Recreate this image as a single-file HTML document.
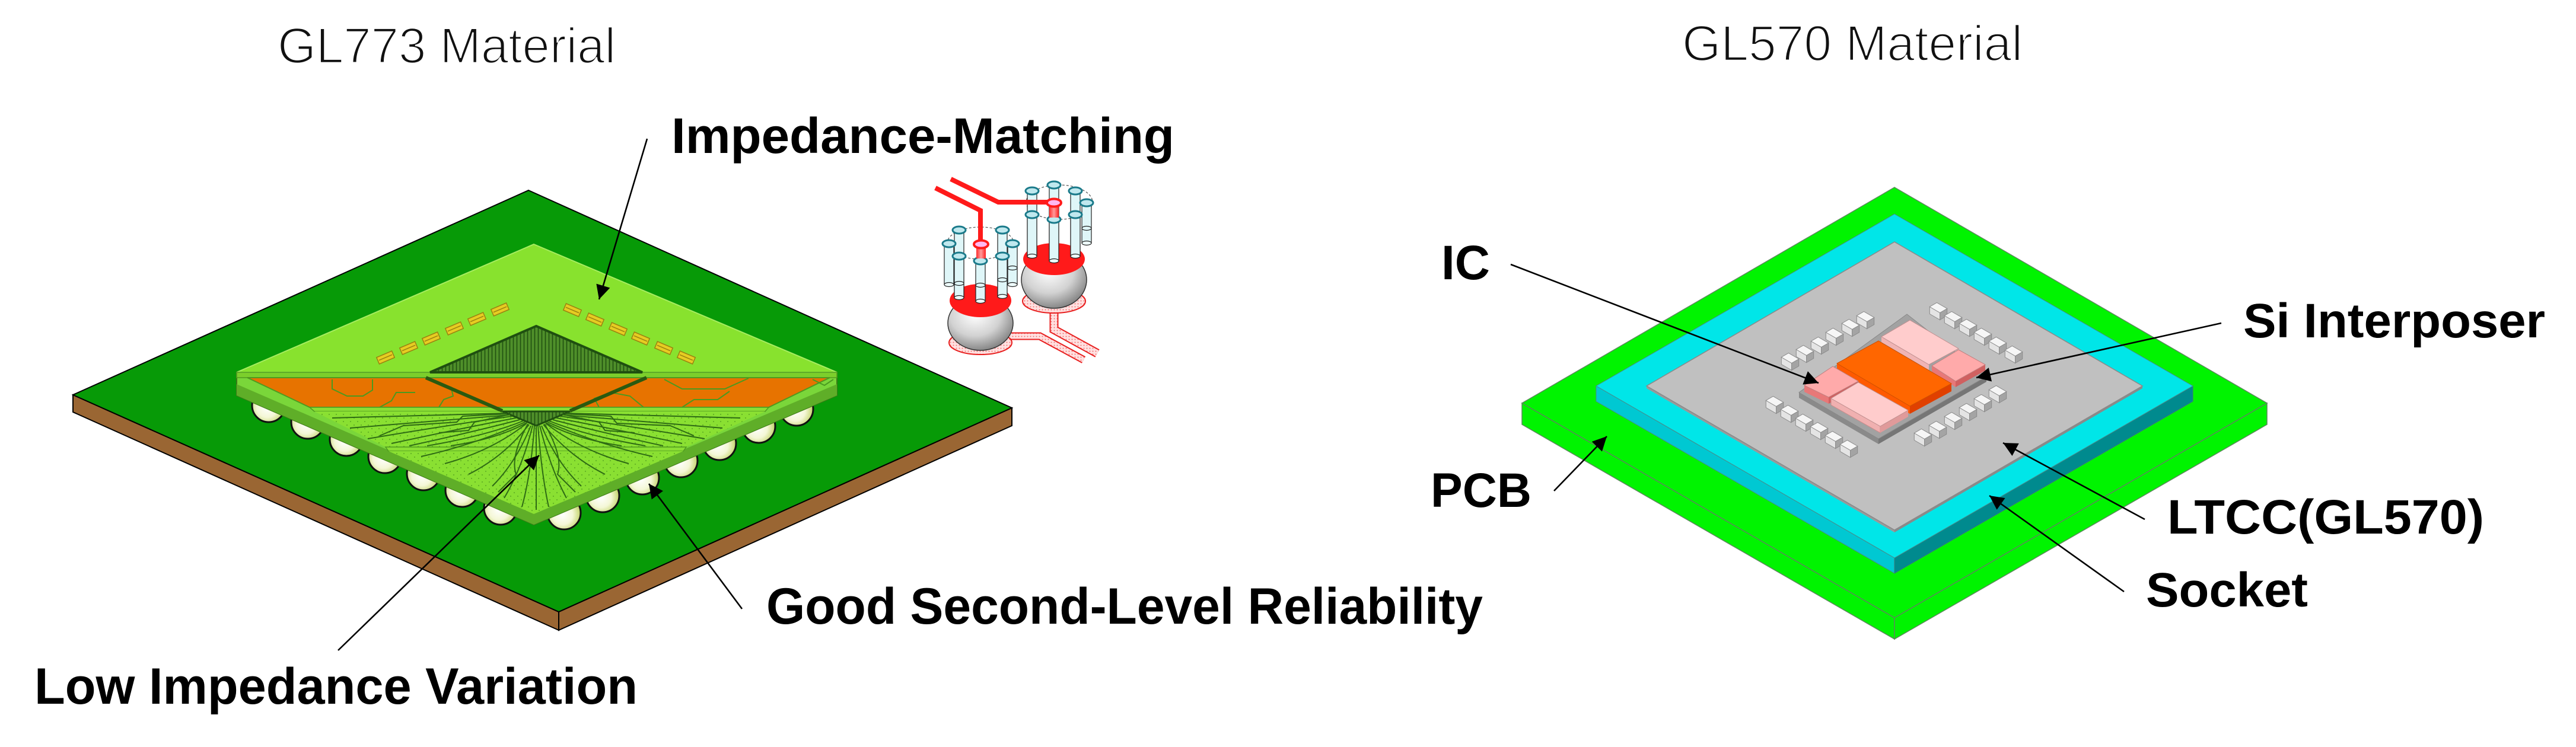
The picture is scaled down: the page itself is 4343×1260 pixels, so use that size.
<!DOCTYPE html>
<html><head><meta charset="utf-8"><style>
html,body{margin:0;padding:0;background:#fff;}
svg{display:block;}
</style></head><body>
<svg width="4343" height="1260" viewBox="0 0 4343 1260" xmlns="http://www.w3.org/2000/svg">
<defs>
<marker id="ah" viewBox="0 0 10 10" refX="10" refY="5" markerWidth="32" markerHeight="24" markerUnits="userSpaceOnUse" orient="auto"><path d="M0,0 L10,5 L0,10 z" fill="#000"/></marker>
<radialGradient id="ballg" cx="0.45" cy="0.55" r="0.62"><stop offset="0" stop-color="#ffffff"/><stop offset="0.5" stop-color="#f4f7d6"/><stop offset="1" stop-color="#b5c84a"/></radialGradient>
<radialGradient id="grayball" cx="0.42" cy="0.35" r="0.7"><stop offset="0" stop-color="#ffffff"/><stop offset="0.55" stop-color="#d2d2d2"/><stop offset="1" stop-color="#7a7a7a"/></radialGradient>
<linearGradient id="redcyl" x1="0" y1="0" x2="1" y2="0"><stop offset="0" stop-color="#ff3030"/><stop offset="0.5" stop-color="#ff9a9a"/><stop offset="1" stop-color="#ff2020"/></linearGradient>
<pattern id="dots" width="12" height="12" patternUnits="userSpaceOnUse"><circle cx="3" cy="3" r="1.1" fill="#3f8a1a" opacity="0.55"/><circle cx="9" cy="9" r="1.1" fill="#3f8a1a" opacity="0.55"/></pattern>
<pattern id="hatch" width="6" height="10" patternUnits="userSpaceOnUse"><rect width="6" height="10" fill="#4f8f2a"/><line x1="1.5" y1="0" x2="1.5" y2="10" stroke="#1f4f10" stroke-width="1.6"/></pattern>
<pattern id="pinkdot" width="5" height="5" patternUnits="userSpaceOnUse"><rect width="5" height="5" fill="#ffe0e0"/><circle cx="2.5" cy="2.5" r="1" fill="#f07070"/></pattern>
<clipPath id="pkgclip"><polygon points="900,412 1411,628 1411,667 900,885 399,667 399,628"/></clipPath>
<g id="cube">
<polygon points="-14.7,-7.5 2.6,2.5 2.6,14.5 -14.7,4.5" fill="#e4e4e4" stroke="#8a8a8a" stroke-width="1"/>
<polygon points="2.6,2.5 14.7,-4.5 14.7,7.5 2.6,14.5" fill="#a4a4a4" stroke="#8a8a8a" stroke-width="1"/>
<polygon points="-14.7,-7.5 2.6,2.5 14.7,-4.5 -2.6,-14.5" fill="#f6f6f6" stroke="#8a8a8a" stroke-width="1"/>
</g>
</defs>

<!-- ===== Titles ===== -->
<text x="468" y="106" font-family="Liberation Sans, sans-serif" font-size="84" fill="#111" stroke="#fff" stroke-width="2.5" textLength="570" lengthAdjust="spacingAndGlyphs">GL773 Material</text>
<text x="2836" y="102" font-family="Liberation Sans, sans-serif" font-size="84" fill="#111" stroke="#fff" stroke-width="2.5" textLength="574" lengthAdjust="spacingAndGlyphs">GL570 Material</text>

<!-- ===== LEFT: board ===== -->
<polygon points="123,666 942,1032 942,1063 123,695" fill="#9a6633" stroke="#000" stroke-width="2"/>
<polygon points="942,1032 1706,688 1706,718 942,1063" fill="#9a6633" stroke="#000" stroke-width="2"/>
<polygon points="891,321 1706,688 942,1032 123,666" fill="#079a07" stroke="#000" stroke-width="2"/>

<!-- solder balls -->
<g stroke="#111" stroke-width="3" fill="url(#ballg)">
<ellipse cx="453" cy="684" rx="28" ry="28"/>
<ellipse cx="1343" cy="690" rx="28" ry="28"/>
<ellipse cx="519" cy="712" rx="28" ry="28"/>
<ellipse cx="1279" cy="719" rx="28" ry="28"/>
<ellipse cx="584" cy="741" rx="28" ry="28"/>
<ellipse cx="1213" cy="748" rx="28" ry="28"/>
<ellipse cx="649" cy="770" rx="28" ry="28"/>
<ellipse cx="1148" cy="777" rx="28" ry="28"/>
<ellipse cx="714" cy="799" rx="28" ry="28"/>
<ellipse cx="1083" cy="806" rx="28" ry="28"/>
<ellipse cx="779" cy="827" rx="28" ry="28"/>
<ellipse cx="1016" cy="836" rx="28" ry="28"/>
<ellipse cx="844" cy="857" rx="28" ry="28"/>
<ellipse cx="951" cy="865" rx="28" ry="28"/>
</g>

<!-- package -->
<polygon points="900,412 1411,628 1411,667 900,885 399,667 399,628" fill="#7ad63a" stroke="#3d7a18" stroke-width="2"/>
<polygon points="399,648 399,667 900,885 900,866" fill="#5fae28"/>
<polygon points="900,866 900,885 1411,667 1411,648" fill="#5fae28"/>
<polygon points="900,412 1411,628 399,628" fill="#88e22e" stroke="#a6ee60" stroke-width="2"/>
<rect x="399" y="628" width="1012" height="9" fill="#7ccf2c" stroke="#4f9a20" stroke-width="1.5"/>
<!-- orange layer -->
<polygon points="417,637 1399,637 1296,687 522,687" fill="#e77300" stroke="#4f9a20" stroke-width="2"/>
<polygon points="522,687 1296,687 1290,694 530,694" fill="#8ade34" stroke="#4f9a20" stroke-width="1.5"/>
<!-- trace layer -->
<polygon points="530,694 1290,694 1157,754 650,754" fill="#8ae032"/>
<polygon points="530,694 1290,694 1157,754 650,754" fill="url(#dots)"/>
<polygon points="650,754 1157,754 1152,761 655,761" fill="#8ade34" stroke="#4f9a20" stroke-width="1.5"/>
<polygon points="655,761 1152,761 900,867" fill="#8ae032"/>
<polygon points="655,761 1152,761 900,867" fill="url(#dots)"/>

<!-- orange band traces -->
<g fill="none" stroke="#4a9a20" stroke-width="2">
<polyline points="560,640 560,656 585,668 612,668 628,658 628,640"/>
<polyline points="640,687 660,676 668,662 700,662"/>
<polyline points="1120,640 1150,656 1222,656 1262,638"/>
<polyline points="1370,640 1390,650 1405,640"/>
<polyline points="740,687 748,674 764,668 760,652"/>
<polyline points="1010,687 1002,672 1030,662 1062,668 1085,687"/>
<polyline points="1150,687 1170,674 1210,674 1230,660"/>
</g>

<!-- die -->
<polygon points="904,550 1083,628 725,628" fill="url(#hatch)" stroke="#1f4f10" stroke-width="4"/>
<line x1="718" y1="637" x2="847" y2="693" stroke="#2a5a10" stroke-width="6"/>
<line x1="1090" y1="637" x2="961" y2="693" stroke="#2a5a10" stroke-width="6"/>
<polygon points="847,694 961,694 904,718" fill="url(#hatch)" stroke="#1f4f10" stroke-width="3"/>

<!-- traces -->
<g clip-path="url(#pkgclip)" fill="none" stroke="#2e6b14" stroke-width="2">
<path d="M852,697 Q760,700 560,705"/>
<path d="M858,700 Q760,708 590,722"/>
<path d="M864,702 Q770,715 620,740"/>
<path d="M870,705 Q790,720 660,748"/>
<path d="M876,708 Q800,728 690,752"/>
<path d="M882,710 Q820,735 720,752"/>
<path d="M888,713 Q840,740 760,752"/>
<path d="M855,698 L780,702 L770,712 L680,718 L640,735"/>
<path d="M860,699 L800,712 L790,726 L740,730"/>
<path d="M956,697 Q1048,700 1248,705"/>
<path d="M950,700 Q1048,708 1218,722"/>
<path d="M944,702 Q1038,715 1188,740"/>
<path d="M938,705 Q1018,720 1150,748"/>
<path d="M932,708 Q1008,728 1118,752"/>
<path d="M926,710 Q988,735 1088,752"/>
<path d="M920,713 Q968,740 1048,752"/>
<path d="M953,698 L1030,702 L1040,714 L1130,718 L1170,735"/>
<path d="M948,699 L1010,712 L1020,726 L1070,730"/>
<path d="M895,718 Q870,780 830,820"/>
<path d="M898,718 Q880,790 850,840"/>
<path d="M901,718 Q895,800 880,855"/>
<path d="M904,718 L904,860"/>
<path d="M907,718 Q913,800 925,855"/>
<path d="M910,718 Q928,790 955,840"/>
<path d="M913,718 Q938,780 980,820"/>
<path d="M892,716 Q850,770 790,800"/>
<path d="M916,716 Q960,770 1020,800"/>
<path d="M888,714 Q830,760 750,782"/>
<path d="M920,714 Q980,760 1060,782"/>
<path d="M885,712 Q800,750 710,770"/>
<path d="M923,712 Q1010,750 1100,770"/>
<path d="M890,715 Q860,770 870,800 L840,830"/>
<path d="M918,715 Q950,770 940,800 L970,830"/>
</g>

<!-- pads -->
<g fill="#e6cc22" stroke="#9a8210" stroke-width="1.5">
<g transform="translate(650,603) rotate(-23)"><rect x="-14" y="-6" width="28" height="12"/><line x1="-12" y1="0" x2="12" y2="0"/></g>
<g transform="translate(689,587) rotate(-23)"><rect x="-14" y="-6" width="28" height="12"/><line x1="-12" y1="0" x2="12" y2="0"/></g>
<g transform="translate(727,571) rotate(-23)"><rect x="-14" y="-6" width="28" height="12"/><line x1="-12" y1="0" x2="12" y2="0"/></g>
<g transform="translate(766,554) rotate(-23)"><rect x="-14" y="-6" width="28" height="12"/><line x1="-12" y1="0" x2="12" y2="0"/></g>
<g transform="translate(804,538) rotate(-23)"><rect x="-14" y="-6" width="28" height="12"/><line x1="-12" y1="0" x2="12" y2="0"/></g>
<g transform="translate(843,522) rotate(-23)"><rect x="-14" y="-6" width="28" height="12"/><line x1="-12" y1="0" x2="12" y2="0"/></g>
<g transform="translate(965,523) rotate(23)"><rect x="-14" y="-6" width="28" height="12"/><line x1="-12" y1="0" x2="12" y2="0"/></g>
<g transform="translate(1003,539) rotate(23)"><rect x="-14" y="-6" width="28" height="12"/><line x1="-12" y1="0" x2="12" y2="0"/></g>
<g transform="translate(1042,555) rotate(23)"><rect x="-14" y="-6" width="28" height="12"/><line x1="-12" y1="0" x2="12" y2="0"/></g>
<g transform="translate(1080,571) rotate(23)"><rect x="-14" y="-6" width="28" height="12"/><line x1="-12" y1="0" x2="12" y2="0"/></g>
<g transform="translate(1119,587) rotate(23)"><rect x="-14" y="-6" width="28" height="12"/><line x1="-12" y1="0" x2="12" y2="0"/></g>
<g transform="translate(1157,603) rotate(23)"><rect x="-14" y="-6" width="28" height="12"/><line x1="-12" y1="0" x2="12" y2="0"/></g>
</g>

<!-- ===== Inset: impedance matching ===== -->
<!-- right group -->
<polyline points="1777,515 1777,556 1850,596" fill="none" stroke="#e82020" stroke-width="15"/>
<polyline points="1777,515 1777,556 1850,596" fill="none" stroke="url(#pinkdot)" stroke-width="11"/>
<ellipse cx="1777" cy="508" rx="53" ry="20" fill="url(#pinkdot)" stroke="#e82020" stroke-width="2"/>
<ellipse cx="1777" cy="472" rx="55" ry="48" fill="url(#grayball)" stroke="#333" stroke-width="1.5"/>
<ellipse cx="1777" cy="437" rx="52" ry="27" fill="#ff1a1a"/>
<ellipse cx="1786" cy="341" rx="56" ry="29" fill="none" stroke="#555" stroke-width="1.2" stroke-dasharray="4,3"/>
<g stroke-width="1.2">
<g><rect x="1769" y="312" width="16" height="108" fill="#dff6f8" stroke="#222"/><ellipse cx="1777" cy="420" rx="8" ry="3.5" fill="#eefcfc" stroke="#222"/><ellipse cx="1777" cy="312" rx="11" ry="6" fill="#bfe8ee" stroke="#1a7a8a" stroke-width="3"/></g>
<g><rect x="1732" y="322" width="16" height="110" fill="#dff6f8" stroke="#222"/><ellipse cx="1740" cy="432" rx="8" ry="3.5" fill="#eefcfc" stroke="#222"/><ellipse cx="1740" cy="322" rx="11" ry="6" fill="#bfe8ee" stroke="#1a7a8a" stroke-width="3"/></g>
<g><rect x="1805" y="322" width="16" height="110" fill="#dff6f8" stroke="#222"/><ellipse cx="1813" cy="432" rx="8" ry="3.5" fill="#eefcfc" stroke="#222"/><ellipse cx="1813" cy="322" rx="11" ry="6" fill="#bfe8ee" stroke="#1a7a8a" stroke-width="3"/></g>
<g><rect x="1824" y="342" width="16" height="68" fill="#dff6f8" stroke="#222"/><ellipse cx="1832" cy="385" rx="8" ry="3.5" fill="none" stroke="#222"/><ellipse cx="1832" cy="410" rx="8" ry="3.5" fill="#eefcfc" stroke="#222"/><ellipse cx="1832" cy="342" rx="11" ry="6" fill="#bfe8ee" stroke="#1a7a8a" stroke-width="3"/></g>
<g><rect x="1732" y="362" width="16" height="70" fill="#dff6f8" stroke="#222"/><ellipse cx="1740" cy="432" rx="8" ry="3.5" fill="#eefcfc" stroke="#222"/><ellipse cx="1740" cy="362" rx="11" ry="6" fill="#bfe8ee" stroke="#1a7a8a" stroke-width="3"/></g>
<g><rect x="1805" y="362" width="16" height="70" fill="#dff6f8" stroke="#222"/><ellipse cx="1813" cy="432" rx="8" ry="3.5" fill="#eefcfc" stroke="#222"/><ellipse cx="1813" cy="362" rx="11" ry="6" fill="#bfe8ee" stroke="#1a7a8a" stroke-width="3"/></g>
<g><rect x="1769" y="370" width="16" height="70" fill="#dff6f8" stroke="#222"/><ellipse cx="1777" cy="440" rx="8" ry="3.5" fill="#eefcfc" stroke="#222"/><ellipse cx="1777" cy="370" rx="11" ry="6" fill="#bfe8ee" stroke="#1a7a8a" stroke-width="3"/></g>
</g>
<rect x="1769" y="342" width="16" height="25" fill="url(#redcyl)"/>

<!-- left group -->
<polyline points="1703,567 1753,567 1827,607" fill="none" stroke="#e82020" stroke-width="13"/>
<polyline points="1703,567 1753,567 1827,607" fill="none" stroke="url(#pinkdot)" stroke-width="9"/>
<ellipse cx="1653" cy="578" rx="53" ry="20" fill="url(#pinkdot)" stroke="#e82020" stroke-width="2"/>
<ellipse cx="1653" cy="545" rx="55" ry="46" fill="url(#grayball)" stroke="#333" stroke-width="1.5"/>
<ellipse cx="1653" cy="507" rx="52" ry="28" fill="#ff1a1a"/>
<ellipse cx="1653" cy="410" rx="56" ry="27" fill="none" stroke="#555" stroke-width="1.2" stroke-dasharray="4,3"/>
<g stroke-width="1.2">
<g><rect x="1609" y="388" width="16" height="112" fill="#dff6f8" stroke="#222"/><ellipse cx="1617" cy="500" rx="8" ry="3.5" fill="#eefcfc" stroke="#222"/><ellipse cx="1617" cy="388" rx="11" ry="6" fill="#bfe8ee" stroke="#1a7a8a" stroke-width="3"/></g>
<g><rect x="1682" y="388" width="16" height="109" fill="#dff6f8" stroke="#222"/><ellipse cx="1690" cy="497" rx="8" ry="3.5" fill="#eefcfc" stroke="#222"/><ellipse cx="1690" cy="388" rx="11" ry="6" fill="#bfe8ee" stroke="#1a7a8a" stroke-width="3"/></g>
<g><rect x="1592" y="411" width="16" height="69" fill="#dff6f8" stroke="#222"/><ellipse cx="1600" cy="480" rx="8" ry="3.5" fill="#eefcfc" stroke="#222"/><ellipse cx="1600" cy="411" rx="11" ry="6" fill="#bfe8ee" stroke="#1a7a8a" stroke-width="3"/></g>
<g><rect x="1699" y="411" width="16" height="69" fill="#dff6f8" stroke="#222"/><ellipse cx="1707" cy="452" rx="8" ry="3.5" fill="none" stroke="#222"/><ellipse cx="1707" cy="480" rx="8" ry="3.5" fill="#eefcfc" stroke="#222"/><ellipse cx="1707" cy="411" rx="11" ry="6" fill="#bfe8ee" stroke="#1a7a8a" stroke-width="3"/></g>
<g><rect x="1609" y="432" width="16" height="70" fill="#dff6f8" stroke="#222"/><ellipse cx="1617" cy="478" rx="8" ry="3.5" fill="none" stroke="#222"/><ellipse cx="1617" cy="502" rx="8" ry="3.5" fill="#eefcfc" stroke="#222"/><ellipse cx="1617" cy="432" rx="11" ry="6" fill="#bfe8ee" stroke="#1a7a8a" stroke-width="3"/></g>
<g><rect x="1682" y="432" width="16" height="68" fill="#dff6f8" stroke="#222"/><ellipse cx="1690" cy="472" rx="8" ry="3.5" fill="none" stroke="#222"/><ellipse cx="1690" cy="500" rx="8" ry="3.5" fill="#eefcfc" stroke="#222"/><ellipse cx="1690" cy="432" rx="11" ry="6" fill="#bfe8ee" stroke="#1a7a8a" stroke-width="3"/></g>
<g><rect x="1645" y="440" width="16" height="68" fill="#dff6f8" stroke="#222"/><ellipse cx="1653" cy="481" rx="8" ry="3.5" fill="none" stroke="#222"/><ellipse cx="1653" cy="508" rx="8" ry="3.5" fill="#eefcfc" stroke="#222"/><ellipse cx="1653" cy="440" rx="11" ry="6" fill="#bfe8ee" stroke="#1a7a8a" stroke-width="3"/></g>
</g>
<rect x="1646" y="412" width="16" height="24" fill="url(#redcyl)"/>
<!-- red signal traces -->
<polyline points="1577,317 1653,355 1653,410" fill="none" stroke="#ff1a1a" stroke-width="8" stroke-linejoin="miter"/>
<polyline points="1603,302 1683,341 1772,341" fill="none" stroke="#ff1a1a" stroke-width="8" stroke-linejoin="miter"/>
<ellipse cx="1654" cy="412" rx="12" ry="6.5" fill="#ffb8f0" stroke="#ff1a1a" stroke-width="4"/>
<ellipse cx="1777" cy="342" rx="12" ry="6.5" fill="#ffb8f0" stroke="#ff1a1a" stroke-width="4"/>

<!-- ===== RIGHT diagram ===== -->
<!-- PCB -->
<polygon points="2566,680 3194,1042 3194,1078 2566,716" fill="#00f400" stroke="#5a8a5a" stroke-width="1.5"/>
<polygon points="3194,1042 3822,680 3822,716 3194,1078" fill="#00f400" stroke="#5a8a5a" stroke-width="1.5"/>
<polygon points="3194,316 3822,680 3194,1042 2566,680" fill="#00f400" stroke="#5a8a5a" stroke-width="1.5"/>
<!-- Socket -->
<polygon points="2691,651 3194,941 3194,967 2691,677" fill="#00c8d2" stroke="#4a8a8a" stroke-width="1"/>
<polygon points="3194,941 3697,651 3697,677 3194,967" fill="#008a8e" stroke="#3a7a7a" stroke-width="1"/>
<polygon points="3194,361 3697,651 3194,941 2691,651" fill="#00e6e8" stroke="#4a8a8a" stroke-width="1"/>
<!-- LTCC -->
<polygon points="2776,651 3194,894 3194,898 2776,655" fill="#9a9a9a"/>
<polygon points="3194,894 3612,651 3612,655 3194,898" fill="#8a8a8a"/>
<polygon points="3194,408 3612,651 3194,894 2776,651" fill="#c0c0c0" stroke="#8a8a8a" stroke-width="1.5"/>

<!-- cubes -->
<use href="#cube" x="3268" y="525"/>
<use href="#cube" x="3145" y="540"/>
<use href="#cube" x="3293" y="540"/>
<use href="#cube" x="3120" y="553"/>
<use href="#cube" x="3318" y="553"/>
<use href="#cube" x="3093" y="568"/>
<use href="#cube" x="3343" y="568"/>
<use href="#cube" x="3068" y="583"/>
<use href="#cube" x="3368" y="583"/>
<use href="#cube" x="3043" y="597"/>
<use href="#cube" x="3395" y="598"/>
<use href="#cube" x="3018" y="610"/>
<use href="#cube" x="3368" y="665"/>
<use href="#cube" x="3343" y="680"/>
<use href="#cube" x="2992" y="683"/>
<use href="#cube" x="3318" y="695"/>
<use href="#cube" x="3017" y="698"/>
<use href="#cube" x="3293" y="710"/>
<use href="#cube" x="3042" y="713"/>
<use href="#cube" x="3267" y="725"/>
<use href="#cube" x="3067" y="727"/>
<use href="#cube" x="3242" y="738"/>
<use href="#cube" x="3092" y="742"/>
<use href="#cube" x="3117" y="757"/>

<!-- chip stack -->
<polygon points="3033,662 3167,740 3167,749 3033,671" fill="#8a8a8a"/>
<polygon points="3167,740 3349,635 3349,644 3167,749" fill="#767676"/>
<polygon points="3215,530 3349,635 3167,740 3033,662" fill="#a2a2a2" stroke="#888" stroke-width="1"/>
<!-- top light pink -->
<polygon points="3172,568 3252,615 3252,624 3172,577" fill="#f0b4b4"/>
<polygon points="3172,568 3220,540 3302,588 3252,615" fill="#ffcccc" stroke="#c09090" stroke-width="1"/>
<!-- right pink -->
<polygon points="3257,617 3297,643 3297,653 3257,627" fill="#e87878"/>
<polygon points="3297,643 3347,615 3347,625 3297,653" fill="#d06060"/>
<polygon points="3257,617 3302,590 3347,615 3297,643" fill="#ffaaaa" stroke="#c08080" stroke-width="1"/>
<!-- orange IC -->
<polygon points="3097,613 3220,685 3220,698 3097,626" fill="#ff5a00"/>
<polygon points="3220,685 3290,647 3290,660 3220,698" fill="#e04000"/>
<polygon points="3097,613 3167,575 3290,647 3220,685" fill="#ff6600" stroke="#d05000" stroke-width="1"/>
<!-- left pink -->
<polygon points="3042,650 3083,670 3083,681 3042,661" fill="#e87878"/>
<polygon points="3083,670 3133,643 3133,654 3083,681" fill="#d06060"/>
<polygon points="3042,650 3090,618 3133,643 3083,670" fill="#ffaaaa" stroke="#c08080" stroke-width="1"/>
<!-- bottom light pink -->
<polygon points="3087,672 3170,719 3170,730 3087,683" fill="#f0b0b0" stroke="#d08a8a" stroke-width="1"/>
<polygon points="3170,719 3217,692 3217,703 3170,730" fill="#e09a9a"/>
<polygon points="3087,672 3133,645 3217,692 3170,719" fill="#ffcccc" stroke="#c09090" stroke-width="1"/>

<!-- ===== Arrows ===== -->
<g stroke="#000" stroke-width="2.6" fill="none" marker-end="url(#ah)">
<line x1="1091" y1="234" x2="1010" y2="505"/>
<line x1="570" y1="1097" x2="909" y2="768"/>
<line x1="1251" y1="1027" x2="1094" y2="816"/>
<line x1="2547" y1="446" x2="3066" y2="646"/>
<line x1="3745" y1="545" x2="3332" y2="637"/>
<line x1="2620" y1="828" x2="2709" y2="736"/>
<line x1="3616" y1="876" x2="3377" y2="747"/>
<line x1="3581" y1="998" x2="3354" y2="836"/>
</g>

<!-- ===== Labels ===== -->
<g font-family="Liberation Sans, sans-serif" font-weight="bold" fill="#000">
<text x="1132" y="258" font-size="84" textLength="848" lengthAdjust="spacingAndGlyphs">Impedance-Matching</text>
<text x="58" y="1187" font-size="86" textLength="1017" lengthAdjust="spacingAndGlyphs">Low Impedance Variation</text>
<text x="1292" y="1052" font-size="86" textLength="1208" lengthAdjust="spacingAndGlyphs">Good Second-Level Reliability</text>
<text x="2430" y="471" font-size="82" textLength="82" lengthAdjust="spacingAndGlyphs">IC</text>
<text x="3782" y="569" font-size="82" textLength="509" lengthAdjust="spacingAndGlyphs">Si Interposer</text>
<text x="2412" y="855" font-size="82" textLength="170" lengthAdjust="spacingAndGlyphs">PCB</text>
<text x="3654" y="900" font-size="82" textLength="534" lengthAdjust="spacingAndGlyphs">LTCC(GL570)</text>
<text x="3618" y="1023" font-size="82" textLength="273" lengthAdjust="spacingAndGlyphs">Socket</text>
</g>
</svg>
</body></html>
